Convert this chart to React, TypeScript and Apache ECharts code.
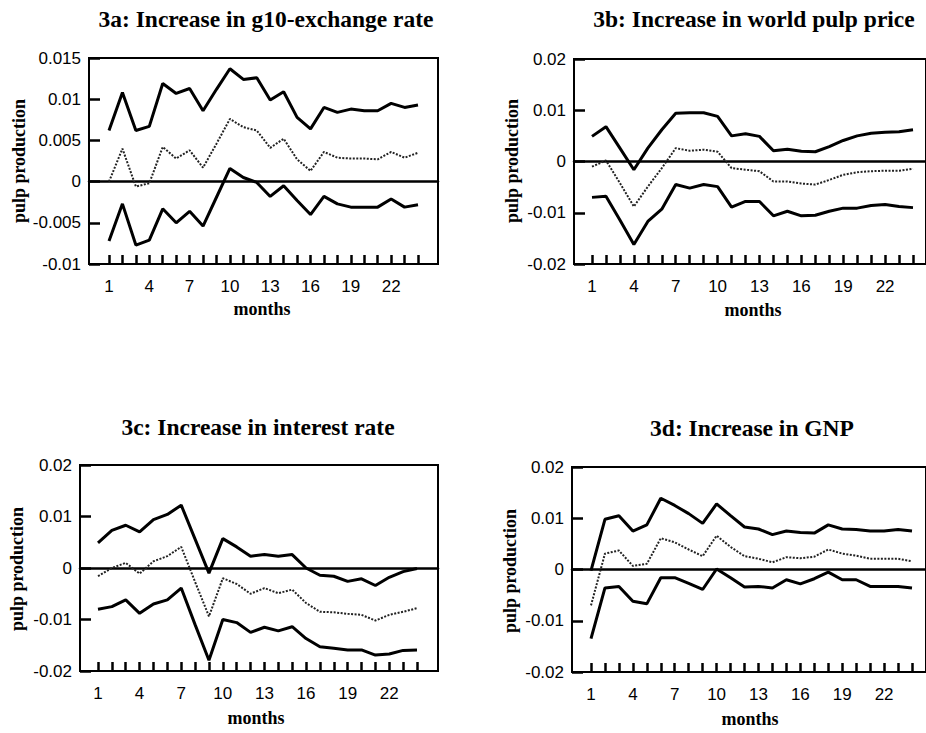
import React, { useEffect, useRef } from "react";
import * as echarts from "echarts";

const months = [1, 2, 3, 4, 5, 6, 7, 8, 9, 10, 11, 12, 13, 14, 15, 16, 17, 18, 19, 20, 21, 22, 23, 24];
const xTickLabels = ["1", "4", "7", "10", "13", "16", "19", "22"];
const yTickLabelsA = ["-0.01", "-0.005", "0", "0.005", "0.01", "0.015"];
const yTickLabelsBCD = ["-0.02", "-0.01", "0", "0.01", "0.02"];

const titles = [
  "3a: Increase in g10-exchange rate",
  "3b: Increase in world pulp price",
  "3c: Increase in interest rate",
  "3d: Increase in GNP",
];
const yAxisName = "pulp production";
const xAxisName = "months";

// 3a: g10-exchange rate
const aUpper = [0.0062, 0.0108, 0.0062, 0.0067, 0.0119, 0.0107, 0.0113, 0.0086, 0.0112, 0.0137, 0.0124, 0.0126, 0.0099, 0.0109, 0.0078, 0.0064, 0.009, 0.0084, 0.0088, 0.0086, 0.0086, 0.0095, 0.009, 0.0093];
const aMid = [0.0, 0.004, -0.0006, -0.0002, 0.0042, 0.0028, 0.0038, 0.0017, 0.0046, 0.0076, 0.0066, 0.0062, 0.0041, 0.0052, 0.0027, 0.0013, 0.0036, 0.0029, 0.0028, 0.0028, 0.0027, 0.0036, 0.0029, 0.0035];
const aLower = [-0.0072, -0.0027, -0.0077, -0.0071, -0.0033, -0.005, -0.0036, -0.0054, -0.0019, 0.0016, 0.0005, -0.0001, -0.0018, -0.0005, -0.0023, -0.004, -0.0018, -0.0027, -0.0031, -0.0031, -0.0031, -0.0021, -0.0031, -0.0028];

// 3b: world pulp price
const bUpper = [0.0049, 0.0068, 0.0026, -0.0016, 0.0026, 0.0062, 0.0094, 0.0095, 0.0095, 0.0088, 0.005, 0.0054, 0.0049, 0.0021, 0.0024, 0.002, 0.0019, 0.0029, 0.0041, 0.005, 0.0055, 0.0057, 0.0058, 0.0062];
const bMid = [-0.001, 0.0002, -0.0042, -0.0088, -0.0049, -0.0013, 0.0026, 0.0021, 0.0023, 0.0019, -0.0013, -0.0016, -0.0019, -0.0039, -0.0039, -0.0043, -0.0045, -0.0036, -0.0026, -0.0021, -0.0019, -0.0018, -0.0018, -0.0014];
const bLower = [-0.007, -0.0068, -0.0114, -0.0162, -0.0117, -0.0093, -0.0045, -0.0052, -0.0045, -0.0049, -0.0089, -0.0078, -0.0078, -0.0106, -0.0097, -0.0106, -0.0105, -0.0097, -0.0091, -0.0091, -0.0086, -0.0084, -0.0088, -0.009];

// 3c: interest rate
const cUpper = [0.0049, 0.0073, 0.0083, 0.007, 0.0094, 0.0104, 0.0122, 0.0056, -0.001, 0.0057, 0.0041, 0.0023, 0.0026, 0.0023, 0.0026, 0.0, -0.0014, -0.0016, -0.0026, -0.0021, -0.0034, -0.0018, -0.0007, -0.0001];
const cMid = [-0.0016, 0.0, 0.001, -0.0011, 0.0013, 0.0023, 0.0041, -0.0027, -0.0094, -0.002, -0.0031, -0.005, -0.0039, -0.0049, -0.0042, -0.0068, -0.0085, -0.0086, -0.0089, -0.0091, -0.0102, -0.0091, -0.0085, -0.0078];
const cLower = [-0.008, -0.0075, -0.0062, -0.0088, -0.007, -0.0062, -0.0039, -0.011, -0.0179, -0.01, -0.0106, -0.0125, -0.0115, -0.0122, -0.0114, -0.0137, -0.0153, -0.0156, -0.0159, -0.0159, -0.0169, -0.0167, -0.016, -0.0159];

// 3d: GNP
const dUpper = [-0.0002, 0.0098, 0.0105, 0.0075, 0.0087, 0.0139, 0.0125, 0.0109, 0.009, 0.0128, 0.0105, 0.0083, 0.0079, 0.0068, 0.0075, 0.0072, 0.0071, 0.0087, 0.0079, 0.0078, 0.0075, 0.0075, 0.0078, 0.0075];
const dMid = [-0.007, 0.0031, 0.0037, 0.0007, 0.0011, 0.0061, 0.0053, 0.0039, 0.0026, 0.0066, 0.0044, 0.0026, 0.0021, 0.0014, 0.0024, 0.0022, 0.0025, 0.0039, 0.0031, 0.0027, 0.0021, 0.0021, 0.0021, 0.0016];
const dLower = [-0.0135, -0.0036, -0.0033, -0.0062, -0.0067, -0.0016, -0.0016, -0.0027, -0.0039, 0.0001, -0.0016, -0.0034, -0.0033, -0.0036, -0.002, -0.0028, -0.0018, -0.0005, -0.002, -0.002, -0.0033, -0.0033, -0.0033, -0.0036];

const panelSeries = [
  [aUpper, aMid, aLower],
  [bUpper, bMid, bLower],
  [cUpper, cMid, cLower],
  [dUpper, dMid, dLower],
];

const SERIF = '"Liberation Serif", "Times New Roman", serif';
const SANS = '"Liberation Sans", Arial, sans-serif';

const layout = [
  { box: { left: 89, top: 58, width: 349, height: 206 }, data: { left: 109, width: 309 }, yMin: -0.01, yMax: 0.015, yInt: 0.005, ticks: yTickLabelsA, title: [266, 19], ylab: [19, 161], xlab: [262, 309] },
  { box: { left: 574, top: 59, width: 359, height: 205 }, data: { left: 592, width: 321 }, yMin: -0.02, yMax: 0.02, yInt: 0.01, ticks: yTickLabelsBCD, title: [754, 19], ylab: [512, 161], xlab: [753, 310] },
  { box: { left: 80, top: 465, width: 358, height: 206 }, data: { left: 98, width: 319 }, yMin: -0.02, yMax: 0.02, yInt: 0.01, ticks: yTickLabelsBCD, title: [258, 427], ylab: [17, 569], xlab: [256, 718] },
  { box: { left: 572, top: 467, width: 361, height: 205 }, data: { left: 591, width: 321 }, yMin: -0.02, yMax: 0.02, yInt: 0.01, ticks: yTickLabelsBCD, title: [752, 428], ylab: [510, 571], xlab: [750, 719] },
];

function buildOption() {
  const grid: any[] = [];
  const xAxis: any[] = [];
  const yAxis: any[] = [];
  const series: any[] = [];
  const graphic: any[] = [];

  layout.forEach((p, i) => {
    const boxIdx = i * 2;
    const dataIdx = i * 2 + 1;
    grid.push({
      left: p.box.left, top: p.box.top, width: p.box.width, height: p.box.height,
      show: true, borderColor: "#000", borderWidth: 2, backgroundColor: "transparent", containLabel: false,
    });
    grid.push({
      left: p.data.left, top: p.box.top, width: p.data.width, height: p.box.height,
      show: false, containLabel: false,
    });
    // box axes
    xAxis.push({
      type: "value", gridIndex: boxIdx, min: 0, max: 1,
      axisLine: { show: true, onZero: true, lineStyle: { color: "#000", width: 2.5 } },
      axisTick: { show: false }, axisLabel: { show: false }, splitLine: { show: false },
    });
    yAxis.push({
      type: "value", gridIndex: boxIdx, min: p.yMin, max: p.yMax, interval: p.yInt,
      axisLine: { show: true, lineStyle: { color: "#000", width: 2 } },
      axisTick: { show: true, inside: true, length: 11, lineStyle: { color: "#000", width: 2.5 } },
      axisLabel: {
        show: true, margin: 8, color: "#000", fontSize: 17, fontFamily: SANS,
        formatter: (_v: number, idx: number) => p.ticks[idx] ?? "",
      },
      splitLine: { show: false },
    });
    // data axes
    xAxis.push({
      type: "value", gridIndex: dataIdx, min: 1, max: 24, interval: 1, position: "bottom",
      axisLine: { show: false, onZero: false },
      axisTick: { show: true, inside: true, length: 9, lineStyle: { color: "#000", width: 2.5 } },
      axisLabel: {
        show: true, margin: 14, color: "#000", fontSize: 17, fontFamily: SANS,
        showMinLabel: true, showMaxLabel: true,
        formatter: (v: number) => (xTickLabels.includes(String(v)) ? String(v) : ""),
      },
      splitLine: { show: false },
    });
    yAxis.push({
      type: "value", gridIndex: dataIdx, min: p.yMin, max: p.yMax, interval: p.yInt,
      show: false, splitLine: { show: false },
    });

    const [up, mid, low] = panelSeries[i];
    const mk = (vals: number[], dotted: boolean) => ({
      type: "line", xAxisIndex: dataIdx, yAxisIndex: dataIdx,
      data: months.map((m, k) => [m, vals[k]]),
      symbol: "none", silent: true,
      lineStyle: dotted
        ? { color: "#222", width: 2, type: [2, 1.5] }
        : { color: "#000", width: 3 },
    });
    series.push(mk(up, false), mk(mid, true), mk(low, false));

    graphic.push({
      type: "text", x: p.title[0], y: p.title[1],
      style: { text: titles[i], font: `bold 23.5px ${SERIF}`, fill: "#000", align: "center", verticalAlign: "middle", textAlign: "center", textVerticalAlign: "middle" },
    });
    graphic.push({
      type: "text", x: p.ylab[0], y: p.ylab[1], rotation: Math.PI / 2,
      style: { text: yAxisName, font: `bold 18px ${SERIF}`, fill: "#000", align: "center", verticalAlign: "middle", textAlign: "center", textVerticalAlign: "middle" },
    });
    graphic.push({
      type: "text", x: p.xlab[0], y: p.xlab[1],
      style: { text: xAxisName, font: `bold 18px ${SERIF}`, fill: "#000", align: "center", verticalAlign: "middle", textAlign: "center", textVerticalAlign: "middle" },
    });
  });

  return { animation: false, backgroundColor: "#fff", grid, xAxis, yAxis, series, graphic };
}

export default function App() {
  const ref = useRef<HTMLDivElement>(null);
  useEffect(() => {
    if (!ref.current) return;
    const chart = echarts.init(ref.current, undefined, { renderer: "svg" });
    chart.setOption(buildOption() as any);
    return () => chart.dispose();
  }, []);
  return (
    <div
      ref={ref}
      style={{ position: "fixed", left: 0, top: 0, width: 926, height: 733, background: "#fff" }}
    />
  );
}
